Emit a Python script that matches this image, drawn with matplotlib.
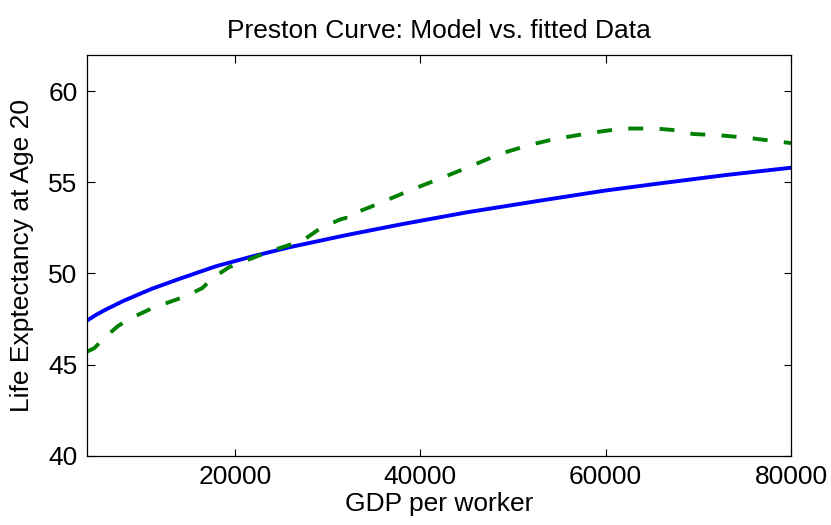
import numpy as np
import matplotlib
matplotlib.use("Agg")
import matplotlib.pyplot as plt

# Model curve (solid blue)
gdp_model = [4000, 5000, 6000, 8000, 11000, 14000, 18000, 22000, 26000, 32000,
             38000, 45000, 53000, 60000, 66000, 73000, 80000]
life_model = [47.4, 47.72, 48.0, 48.5, 49.15, 49.7, 50.4, 50.95, 51.45, 52.1,
              52.7, 53.35, 54.0, 54.55, 54.95, 55.4, 55.8]

# fitted data curve (dashed green)
gdp_data = [4000, 4830, 6000, 7350, 8600, 11100, 14700, 16500, 17600, 19400,
            23700, 27300, 29150, 31300, 32000, 32600, 33400, 35600, 38850,
            42100, 45300, 48550, 51800, 54300, 58250, 61800, 65400, 68300,
            69400, 72300, 75500, 80000]
life_data = [45.7, 45.9, 46.5, 47.1, 47.5, 48.1, 48.75, 49.2, 49.75, 50.35,
             51.2, 51.8, 52.45, 52.95, 53.05, 53.0, 53.4, 53.85, 54.55,
             55.2, 55.85, 56.55, 57.05, 57.35, 57.7, 57.95, 57.95, 57.82,
             57.65, 57.58, 57.43, 57.15]

x_ticks = [20000, 40000, 60000, 80000]
y_ticks = [40, 45, 50, 55, 60]

plt.rcParams['font.family'] = ['Liberation Sans', 'DejaVu Sans']
plt.rcParams['font.size'] = 19

fig = plt.figure(figsize=(8.31, 5.25), dpi=100)
ax = fig.add_axes([0.1042, 0.132, 0.8477, 0.7638])

ax.plot(gdp_model, life_model, color='#0000ff', lw=2.8)
ax.plot(gdp_data, life_data, color='#008000', lw=2.8, linestyle=(0, (3.85, 4.2)))

ax.set_xlim(4000, 80000)
ax.set_ylim(40, 62)
ax.set_xticks(x_ticks)
ax.set_yticks(y_ticks)
ax.tick_params(direction='in', length=5.4, width=0.8, top=True, right=True,
               pad=6.5, labelsize=19)
for s in ax.spines.values():
    s.set_linewidth(0.9)

ax.set_xlabel("GDP per worker", labelpad=2)
ax.set_ylabel("Life Exptectancy at Age 20", labelpad=10)
ax.set_title("Preston Curve: Model vs. fitted Data", fontsize=19, pad=12)

fig.savefig("out.png", dpi=100)
